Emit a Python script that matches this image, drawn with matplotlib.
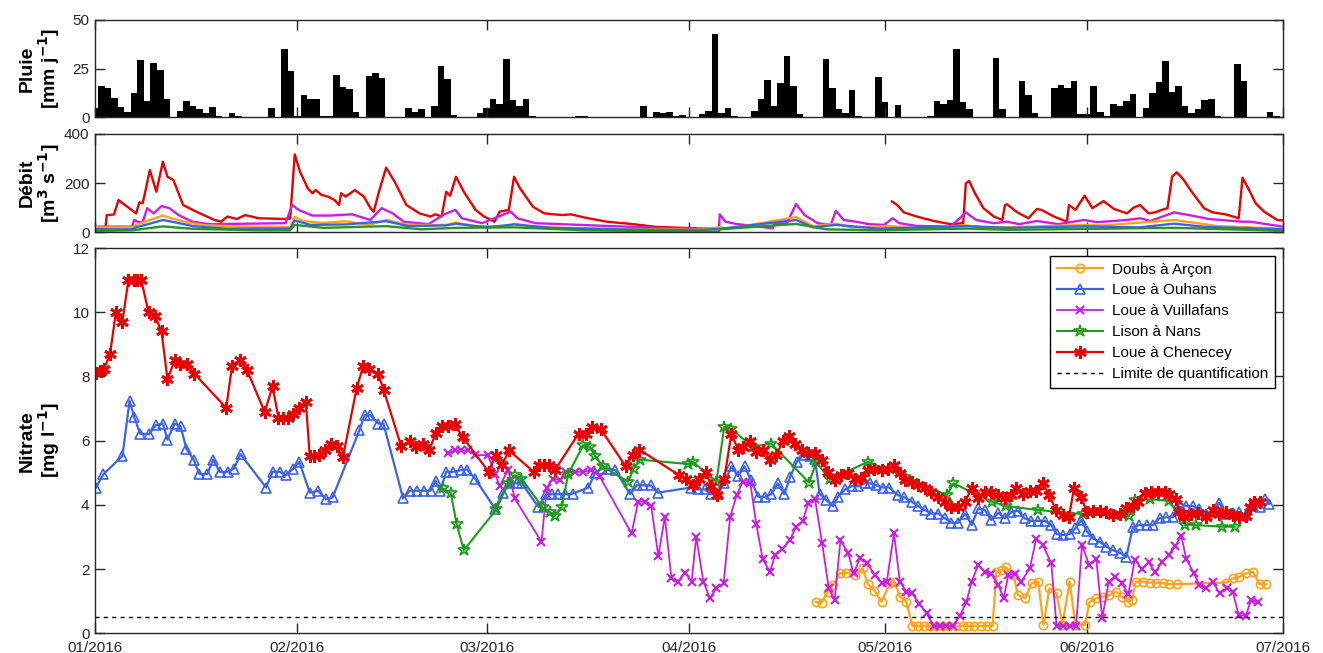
import numpy as np
import pandas as pd
import matplotlib
matplotlib.use("Agg")
import matplotlib.pyplot as plt
import matplotlib.dates as mdates

plt.rcParams['font.family'] = ['Liberation Sans', 'DejaVu Sans']

start = pd.Timestamp("2016-01-01")
end = pd.Timestamp("2016-07-01")

# daily rainfall, mm/day, one value per day from 01/01/2016
rain = [4.6, 16.3, 14.9, 10.1, 5.1, 2.6, 12.5, 29.3, 8.2, 28.1,
        24.1, 9.4, 0, 3.4, 8.2, 5.8, 4.5, 2.1, 5.1, 0.9,
        0, 2.1, 0.9, 0, 0, 0, 0, 4.6, 0, 34.9,
        23.8, 0.9, 11.3, 9.4, 9.4, 0.9, 0.9, 21.7, 15.8, 14.6,
        2.6, 0, 21.1, 22.9, 20.0, 0, 0, 0, 4.6, 2.6,
        4.1, 0, 5.8, 26.2, 19.5, 1.4, 0, 0, 0, 2.1,
        4.6, 9.4, 7.0, 29.8, 8.9, 5.8, 9.4, 0.9, 0, 0,
        0, 0, 0, 0, 0.9, 0.9, 0, 0, 0, 0,
        0, 0, 0, 0, 5.8, 0, 2.6, 2.1, 2.6, 0.9,
        1.4, 0.3, 0, 1.5, 3.4, 43.0, 2.1, 4.6, 0.9, 0,
        0, 3.4, 9.4, 19.3, 5.8, 17.6, 31.7, 16.3, 1.5, 0,
        0, 0, 29.8, 14.9, 4.1, 2.1, 13.9, 0.9, 0, 0,
        20.7, 7.7, 0, 6.5, 0, 0, 0, 0, 0.9, 8.4,
        7.0, 9.1, 34.9, 7.7, 4.1, 0, 0, 0, 30.5, 4.1,
        0, 0, 18.8, 11.5, 2.1, 0, 0, 15.1, 16.8, 15.1,
        18.8, 1.5, 1.5, 16.3, 2.7, 0.9, 7.0, 5.8, 8.2, 11.8,
        0, 4.6, 12.7, 18.2, 28.8, 13.2, 16.3, 5.8, 2.1, 4.1,
        9.1, 9.4, 0.9, 0, 0, 27.4, 18.8, 0, 0, 0,
        2.6, 0.9]

# discharge (day of year, m3/s)
q_chenecey = [(0, 16), (1.6, 16), (1.8, 70), (2.9, 72), (3.6, 131), (6.3, 77),
              (6.8, 122), (7.3, 118), (7.7, 165), (8.4, 253), (9.4, 165),
              (10.4, 287), (11.1, 226), (12.0, 213), (13.5, 111), (15.5, 84),
              (18.3, 50), (19.3, 43), (20.3, 64), (21.7, 54), (23.0, 70),
              (25.1, 57), (29.2, 54), (29.9, 56), (30.6, 317), (31.4, 247),
              (32.6, 179), (33.3, 159), (33.8, 172), (34.7, 152), (35.7, 145),
              (36.7, 131), (37.4, 111), (37.7, 159), (38.4, 145), (39.8, 172),
              (41.2, 145), (42.2, 98), (42.7, 84), (43.5, 165), (44.6, 263),
              (45.9, 206), (47.7, 111), (49.7, 77), (51.4, 64), (52.1, 73),
              (53.1, 64), (53.8, 165), (54.4, 149), (55.3, 226), (56.5, 165),
              (58.3, 91), (59.6, 64), (61.2, 43), (62.0, 84), (63.4, 91),
              (64.2, 226), (65.1, 179), (67.1, 104), (68.8, 77), (71.6, 70),
              (72.9, 73), (75.0, 60), (78.4, 43), (82.5, 33), (85.9, 22),
              (90.0, 18), (92.0, 17), (92.5, np.nan),
              (122.1, 125), (122.9, 111), (123.9, 81), (125.9, 64), (128.5, 46),
              (131.1, 33), (133.0, 37), (133.4, 199), (133.9, 209), (134.8, 159),
              (136.1, 98), (137.7, 64), (139.0, 50), (139.4, 111), (139.7, 114),
              (141.3, 81), (143.0, 57), (144.3, 95), (145.0, 91), (146.9, 64),
              (148.9, 43), (149.2, 111), (150.2, 91), (151.6, 149), (152.8, 98),
              (154.5, 127), (156.1, 95), (158.1, 77), (159.1, 100), (160.1, 111),
              (161.4, 77), (162.4, 81), (163.4, 91), (164.3, 98), (165.0, 226),
              (165.7, 244), (166.6, 220), (168.0, 165), (169.9, 98), (171.2, 81),
              (173.2, 73), (175.2, 57), (175.8, 222), (176.8, 172), (177.8, 118),
              (179.1, 84), (181.1, 50), (182.0, 48)]
q_vuillafans = [(0, 23), (5.7, 23), (6.0, 50), (6.7, 41), (7.3, 41), (8.0, 98),
                (9.0, 77), (10.2, 107), (11.4, 98), (12.8, 70), (14.9, 43),
                (17.6, 33), (29.2, 37), (30.2, 111), (31.2, 91), (33.3, 68),
                (36.0, 68), (39.4, 73), (42.2, 50), (43.9, 98), (45.6, 77),
                (47.3, 43), (51.1, 33), (53.5, 73), (55.2, 91), (56.2, 57),
                (59.3, 37), (63.7, 84), (64.7, 57), (67.5, 37), (74.3, 30),
                (88.0, 16), (95.6, 16), (95.7, 73), (96.6, 43), (98.2, 34),
                (103.8, 16), (104.1, 34), (106.0, 37), (107.4, 115), (108.7, 70),
                (110.7, 37), (112.7, 30), (113.5, 87), (114.7, 50), (116.6, 43),
                (118.6, 33), (120.9, 30), (122.2, 57), (123.2, 37), (125.9, 26),
                (131.1, 23), (133.4, 81), (135.0, 50), (137.7, 37), (139.7, 43),
                (141.6, 33), (144.3, 46), (147.6, 33), (151.5, 50), (153.5, 41),
                (158.1, 50), (160.1, 57), (161.7, 46), (165.3, 81), (168.0, 68),
                (170.6, 54), (175.8, 43), (177.0, 43), (182.0, 23)]
q_arcon = [(0, 20), (5.7, 20), (6.3, 30), (8.4, 50), (10.4, 68), (12.0, 55),
           (14.0, 40), (17.0, 28), (25.0, 22), (29.9, 22), (30.6, 62), (32.0, 45),
           (35.0, 38), (38.4, 45), (42.0, 30), (44.6, 50), (48.0, 30), (53.8, 30),
           (55.3, 40), (58.0, 25), (63.4, 25), (64.2, 35), (67.0, 22), (75.0, 16),
           (92.0, 10), (95.7, 20), (97.0, 14), (107.4, 62), (110.0, 25), (113.5, 35),
           (116.0, 20), (122.2, 25), (126.0, 15), (133.4, 28), (137.0, 18),
           (151.6, 30), (154.5, 28), (165.3, 50), (168.0, 40), (172.0, 25), (182.0, 14)]
q_ouhans = [(0, 12), (5.7, 12), (6.3, 20), (8.4, 35), (10.4, 50), (12.0, 42),
            (15.0, 25), (20.0, 15), (29.9, 15), (30.6, 48), (33.0, 30), (38.4, 32),
            (44.6, 45), (48.0, 25), (53.8, 28), (55.3, 35), (60.0, 20), (64.2, 32),
            (70.0, 18), (80.0, 12), (92.0, 8), (95.7, 14), (107.4, 50), (110.0, 20),
            (113.5, 30), (120.0, 15), (133.4, 25), (140.0, 18), (151.6, 24),
            (160.0, 20), (165.3, 35), (170.0, 22), (182.0, 12)]
q_nans = [(0, 6), (5.7, 8), (10.4, 24), (15.0, 14), (25.0, 8), (29.9, 8), (30.6, 30),
          (35.0, 18), (44.6, 25), (50.0, 12), (55.3, 18), (64.2, 20), (75.0, 8),
          (92.0, 3), (95.6, 3), (95.7, 12), (107.4, 34), (112.0, 12), (120.0, 8),
          (133.4, 15), (140.0, 10), (165.3, 18), (182.0, 6)]

# nitrate (day of year, mg/l)
no3_arcon = [(110.4, 0.98), (111.3, 0.95), (112.3, 1.30), (113.1, 1.50), (114.1, 1.87),
             (115.1, 1.89), (116.4, 1.81), (117.6, 2.02), (118.4, 1.53), (119.4, 1.33),
             (120.5, 0.98), (121.8, 1.58), (122.5, 1.61), (123.3, 1.14), (124.3, 0.98),
             (125.2, 0.23), (126.1, 0.23), (127.0, 0.23), (127.9, 0.23), (128.9, 0.23),
             (129.9, 0.23), (130.9, 0.23), (131.9, 0.23), (132.9, 0.23), (133.8, 0.23),
             (134.7, 0.23), (135.7, 0.23), (136.6, 0.23), (137.5, 0.23), (138.1, 1.92),
             (138.9, 1.97), (139.6, 2.05), (140.7, 1.81), (141.4, 1.19), (142.5, 1.09),
             (143.5, 1.56), (144.5, 1.61), (145.3, 0.26), (146.2, 1.40), (147.3, 1.25),
             (148.2, 0.26), (149.3, 1.61), (150.2, 0.26), (151.6, 0.26), (152.4, 0.98),
             (153.4, 1.09), (154.4, 1.14), (155.4, 1.19), (156.4, 1.30), (157.3, 1.14),
             (158.2, 0.98), (158.9, 1.04), (159.4, 1.61), (160.5, 1.61), (161.6, 1.58),
             (162.6, 1.58), (163.6, 1.56), (164.6, 1.53), (165.7, 1.53), (173.3, 1.58),
             (174.3, 1.71), (175.3, 1.76), (176.4, 1.87), (177.4, 1.92), (178.4, 1.53),
             (179.4, 1.53)]
no3_ouhans = [(0.15, 4.54), (1.3, 4.96), (4.2, 5.52), (5.3, 7.24), (6.0, 6.74), (6.9, 6.22),
              (8.3, 6.20), (9.3, 6.48), (10.4, 6.53), (11.1, 6.03), (12.2, 6.53), (13.1, 6.45),
              (14.0, 5.75), (15.1, 5.41), (16.0, 4.96), (17.2, 4.96), (18.1, 5.41), (19.1, 5.03),
              (20.3, 5.03), (21.3, 5.13), (22.3, 5.58), (26.2, 4.54), (27.2, 5.03), (28.3, 5.03),
              (29.2, 4.92), (30.4, 5.13), (31.3, 5.34), (32.9, 4.38), (34.2, 4.44), (35.4, 4.17),
              (36.4, 4.23), (40.5, 6.32), (41.3, 6.79), (42.2, 6.79), (43.4, 6.53), (44.2, 6.53),
              (47.2, 4.20), (48.2, 4.44), (49.3, 4.44), (50.4, 4.44), (51.4, 4.44), (52.2, 4.75),
              (52.9, 4.44), (53.8, 5.03), (54.9, 5.03), (56.0, 5.08), (57.0, 5.10), (58.2, 4.82),
              (61.3, 3.88), (62.5, 4.38), (63.6, 4.67), (64.6, 4.67), (65.4, 4.67), (67.9, 3.94),
              (69.1, 4.33), (70.0, 4.33), (71.0, 4.33), (72.0, 4.33), (73.2, 4.35), (75.6, 4.54),
              (76.6, 5.00), (77.6, 5.13), (78.6, 5.13), (79.7, 5.08), (82.0, 4.33), (83.0, 4.61),
              (84.0, 4.61), (85.1, 4.61), (86.2, 4.38), (91.3, 4.54), (92.3, 4.48), (93.4, 4.48),
              (94.4, 4.33), (95.4, 4.33), (96.4, 4.69), (97.5, 5.20), (98.5, 4.89), (99.5, 5.20),
              (100.5, 4.77), (101.6, 4.25), (102.6, 4.25), (103.6, 4.33), (104.6, 4.67),
              (105.6, 4.33), (106.5, 4.87), (107.5, 5.34), (108.5, 5.55), (109.5, 5.52),
              (110.3, 5.44), (111.0, 4.35), (112.0, 4.15), (113.1, 3.96), (113.8, 4.25),
              (114.9, 4.48), (115.9, 4.58), (116.9, 4.58), (117.9, 4.67), (118.7, 4.67),
              (119.7, 4.61), (120.7, 4.54), (121.7, 4.54), (123.0, 4.30), (124.0, 4.23),
              (125.1, 4.10), (126.1, 3.96), (127.1, 3.84), (128.1, 3.73), (129.2, 3.73),
              (130.2, 3.58), (131.2, 3.44), (132.2, 3.44), (133.3, 3.73), (134.3, 3.37),
              (135.3, 3.89), (136.3, 3.84), (137.3, 3.53), (138.4, 3.75), (139.4, 3.58),
              (140.4, 3.78), (141.4, 3.82), (142.4, 3.58), (143.4, 3.50), (144.4, 3.50),
              (145.5, 3.50), (146.5, 3.37), (147.3, 3.09), (148.3, 3.06), (149.3, 3.09),
              (150.2, 3.27), (151.1, 3.53), (151.9, 3.19), (152.9, 2.95), (153.9, 2.85),
              (154.9, 2.70), (155.9, 2.59), (157.0, 2.51), (158.0, 2.38), (159.0, 3.32),
              (160.0, 3.37), (161.1, 3.37), (162.1, 3.37), (163.1, 3.58), (164.1, 3.61),
              (165.1, 3.61), (166.1, 4.06), (167.2, 3.96), (168.2, 3.96), (169.1, 3.86),
              (170.2, 3.73), (171.2, 3.78), (172.2, 4.06), (173.3, 3.73), (174.3, 3.75),
              (175.3, 3.78), (176.3, 3.68), (177.4, 3.96), (178.4, 3.94), (179.3, 4.17),
              (179.9, 4.04)]
no3_vuillafans = [(54.1, 5.60), (55.1, 5.70), (56.1, 5.70), (57.2, 5.70), (58.2, 5.55),
                  (60.2, 5.55), (61.3, 4.96), (62.0, 4.58), (63.3, 5.10), (64.3, 4.20),
                  (68.4, 2.85), (69.2, 4.51), (70.1, 4.82), (71.2, 4.77), (72.2, 5.03),
                  (73.5, 5.03), (74.8, 5.03), (76.0, 5.08), (77.3, 4.89), (82.2, 3.11),
                  (83.2, 4.10), (84.2, 4.10), (85.2, 3.96), (86.3, 2.41), (87.3, 3.63),
                  (88.3, 1.71), (89.3, 1.61), (90.4, 1.89), (91.4, 1.61), (92.1, 3.01),
                  (93.2, 1.61), (94.2, 1.09), (95.2, 1.40), (96.3, 1.56), (97.3, 3.63),
                  (98.3, 4.30), (99.2, 4.72), (100.4, 4.67), (101.3, 3.40), (102.3, 2.30),
                  (103.4, 1.92), (104.2, 2.44), (105.3, 2.61), (106.4, 2.90), (107.4, 3.30),
                  (108.4, 3.50), (109.3, 4.07), (110.3, 4.18), (111.4, 2.80), (112.4, 1.40),
                  (113.3, 1.03), (114.2, 2.90), (115.4, 2.49), (116.2, 1.87), (117.2, 2.33),
                  (118.3, 2.18), (119.5, 1.81), (120.5, 1.58), (121.3, 1.61), (122.4, 3.11),
                  (123.3, 1.61), (124.3, 1.30), (125.2, 1.24), (126.3, 0.91), (127.4, 0.62),
                  (128.5, 0.23), (129.5, 0.23), (130.4, 0.23), (131.4, 0.23), (132.5, 0.54),
                  (133.5, 0.98), (134.3, 1.61), (135.3, 2.13), (136.3, 1.92), (137.3, 1.85),
                  (138.4, 1.50), (139.2, 1.09), (139.9, 1.81), (140.9, 1.85), (141.9, 1.61),
                  (143.2, 2.02), (144.2, 2.95), (145.2, 2.75), (146.5, 2.18), (147.3, 0.23),
                  (148.3, 0.23), (149.3, 0.23), (150.3, 0.23), (151.2, 2.75), (152.3, 2.13),
                  (153.4, 2.30), (154.3, 0.47), (155.3, 1.61), (156.3, 1.76), (157.3, 1.56),
                  (158.3, 1.22), (159.3, 2.29), (160.4, 2.00), (161.4, 2.21), (162.4, 1.90),
                  (163.5, 2.23), (164.5, 2.44), (165.5, 2.72), (166.4, 3.03), (167.2, 2.30),
                  (168.3, 1.89), (169.2, 1.50), (170.2, 1.40), (171.2, 1.61), (172.3, 1.24),
                  (173.4, 1.40), (174.3, 1.30), (175.2, 0.57), (176.3, 0.54), (177.1, 1.04),
                  (178.1, 0.98)]
no3_nans = [(53.3, 4.51), (54.5, 4.38), (55.4, 3.40), (56.5, 2.59), (61.5, 3.86), (63.3, 4.69),
            (64.3, 4.92), (65.3, 4.82), (68.6, 3.92), (69.7, 3.78), (70.4, 3.65), (71.5, 3.94),
            (72.5, 4.96), (74.8, 5.86), (75.8, 5.81), (76.6, 5.52), (77.8, 5.20), (81.7, 4.72),
            (82.5, 5.13), (83.5, 5.41), (90.9, 5.27), (91.6, 5.34), (95.2, 4.72), (96.4, 6.43),
            (97.5, 6.35), (100.8, 5.81), (103.6, 5.91), (109.4, 4.69), (110.5, 5.33),
            (112.6, 4.79), (118.4, 5.34), (124.1, 4.87), (130.5, 4.30), (131.5, 4.67),
            (137.4, 4.10), (139.6, 3.96), (144.5, 3.84), (151.4, 3.71), (158.4, 3.65),
            (159.3, 4.15), (161.6, 4.17), (164.5, 4.13), (167.0, 3.37), (168.6, 3.37),
            (172.7, 3.32), (174.6, 3.32)]
no3_chenecey = [(0.15, 8.11), (0.9, 8.17), (1.4, 8.24), (2.3, 8.69), (3.2, 10.0), (4.2, 9.69),
                (5.1, 10.99), (5.9, 11.01), (6.5, 10.99), (7.1, 10.99), (8.2, 10.0), (9.2, 9.87),
                (10.2, 9.40), (11.1, 7.91), (12.2, 8.50), (13.0, 8.40), (14.1, 8.38), (15.2, 8.09),
                (20.1, 7.02), (21.0, 8.33), (22.2, 8.52), (23.3, 8.19), (26.0, 6.89), (27.2, 7.69),
                (28.1, 6.72), (28.8, 6.69), (29.6, 6.72), (30.4, 6.82), (31.3, 7.03), (32.3, 7.21),
                (32.9, 5.52), (33.6, 5.52), (34.3, 5.55), (35.2, 5.72), (36.1, 5.91), (37.0, 5.83),
                (38.0, 5.50), (40.1, 7.65), (41.1, 8.33), (42.0, 8.22), (43.4, 8.07), (44.2, 7.59),
                (46.9, 5.83), (48.2, 5.99), (49.2, 5.81), (50.3, 5.91), (51.2, 5.70), (52.2, 6.24),
                (53.1, 6.45), (54.1, 6.45), (55.1, 6.51), (56.3, 6.12), (60.3, 5.03), (61.4, 5.55),
                (62.4, 5.24), (63.4, 5.70), (67.2, 5.03), (68.0, 5.24), (68.8, 5.24), (69.5, 5.24),
                (70.5, 5.10), (74.1, 6.22), (75.2, 6.22), (76.2, 6.43), (77.5, 6.35), (81.3, 5.20),
                (82.4, 5.55), (83.4, 5.72), (89.5, 4.92), (90.6, 4.82), (91.6, 4.61), (92.6, 4.79),
                (93.6, 5.03), (94.4, 4.58), (95.3, 4.30), (96.4, 4.82), (97.5, 6.22), (98.5, 5.72),
                (99.3, 5.81), (100.3, 5.99), (101.3, 5.65), (102.4, 5.70), (103.4, 5.41),
                (104.4, 5.55), (105.4, 6.00), (106.3, 6.16), (107.3, 5.91), (108.3, 5.72),
                (109.2, 5.60), (110.3, 5.60), (111.3, 5.41), (112.3, 5.03), (113.3, 4.77),
                (114.3, 4.92), (115.4, 5.00), (116.4, 4.82), (117.4, 4.85), (118.4, 5.10),
                (119.4, 5.13), (120.5, 5.08), (121.5, 5.13), (122.4, 5.24), (123.3, 4.98),
                (124.1, 4.77), (125.1, 4.72), (126.1, 4.61), (127.1, 4.51), (128.1, 4.41),
                (129.2, 4.25), (130.2, 4.10), (131.2, 3.94), (132.2, 3.92), (133.3, 4.10),
                (134.3, 4.51), (135.3, 4.20), (136.3, 4.41), (137.3, 4.41), (138.4, 4.30),
                (139.4, 4.20), (140.4, 4.30), (141.1, 4.51), (142.2, 4.35), (143.2, 4.44),
                (144.2, 4.44), (145.2, 4.67), (146.2, 4.30), (147.2, 3.84), (148.3, 3.68),
                (149.2, 3.63), (150.0, 4.54), (151.1, 4.25), (151.9, 3.78), (152.9, 3.82),
                (153.9, 3.82), (154.9, 3.78), (155.9, 3.68), (157.0, 3.73), (158.0, 3.89),
                (159.0, 3.96), (159.8, 4.10), (160.8, 4.38), (161.8, 4.41), (162.8, 4.41),
                (163.9, 4.41), (164.6, 4.35), (165.6, 4.17), (166.1, 3.78), (166.9, 3.63),
                (167.9, 3.73), (168.9, 3.75), (170.2, 3.61), (171.2, 3.84), (172.2, 3.73),
                (173.3, 3.78), (174.3, 3.68), (175.3, 3.63), (176.3, 3.65), (176.9, 3.94),
                (177.6, 4.10), (178.4, 4.10)]
limite_quantif = 0.5

c_orange = '#FFA21F'
c_blue = '#3D63E3'
c_magenta = '#C81EE0'
c_green = '#1F9A1F'
c_red = '#E80000'


def to_dates(pairs):
    d, v = zip(*pairs)
    return start + pd.to_timedelta(np.array(d), unit='D'), np.array(v, dtype=float)


fig = plt.figure(figsize=(13.23, 6.53), dpi=100)
ax1 = fig.add_axes([0.0718, 0.8204, 0.898, 0.149])
ax2 = fig.add_axes([0.0718, 0.6443, 0.898, 0.1505])
ax3 = fig.add_axes([0.0718, 0.0302, 0.898, 0.590])

# rain
rain_dates = start + pd.to_timedelta(np.arange(len(rain)), unit='D')
ax1.bar(rain_dates, rain, width=1.0, color='black', edgecolor='none')
ax1.set_ylim(0, 50)
ax1.set_yticks([0, 25, 50])

# discharge
for pairs, col in [(q_chenecey, c_red), (q_vuillafans, c_magenta), (q_arcon, c_orange),
                   (q_ouhans, c_blue), (q_nans, c_green)]:
    x, y = to_dates(pairs)
    ax2.plot(x, y, color=col, lw=1.7)
ax2.set_ylim(0, 400)
ax2.set_yticks([0, 200, 400])

# nitrate
x, y = to_dates(no3_arcon)
ax3.plot(x, y, color=c_orange, lw=1.6, marker='o', ms=6, mfc='none', mew=1.2,
         label='Doubs à Arçon')
x, y = to_dates(no3_ouhans)
ax3.plot(x, y, color=c_blue, lw=1.6, marker='^', ms=7, mfc='none', mew=1.2,
         label='Loue à Ouhans')
x, y = to_dates(no3_vuillafans)
ax3.plot(x, y, color=c_magenta, lw=1.3, marker='x', ms=6, mew=1.5,
         label='Loue à Vuillafans')
x, y = to_dates(no3_nans)
ax3.plot(x, y, color=c_green, lw=1.5, marker='*', ms=9, mfc='none', mew=1.2,
         label='Lison à Nans')
x, y = to_dates(no3_chenecey)
ax3.plot(x, y, color=c_red, lw=1.6, marker=(6, 2, 0), ms=9, mew=2.0,
         label='Loue à Chenecey')
ax3.axhline(limite_quantif, color='black', lw=1, ls=(0, (3, 3)),
            label='Limite de quantification')
ax3.set_ylim(0, 12)
ax3.set_yticks(range(0, 13, 2))

leg = ax3.legend(loc='upper right', fontsize=11, fancybox=False, framealpha=1,
                 edgecolor='black', borderaxespad=0.5, handlelength=3.0,
                 borderpad=0.45, labelspacing=0.45, handletextpad=0.6)
leg.get_frame().set_linewidth(1.0)

for ax in (ax1, ax2, ax3):
    ax.set_xlim(start, end)
    ax.xaxis.set_major_locator(mdates.MonthLocator())
    ax.xaxis.set_major_formatter(mdates.DateFormatter('%m/%Y'))
    ax.tick_params(direction='in', top=True, right=True, length=7, width=1,
                   labelsize=11, colors='#262626', pad=4)
    ax.tick_params(axis='x', pad=5.5)
    for s in ax.spines.values():
        s.set_linewidth(1.0)
        s.set_color('#262626')
for ax in (ax1, ax2):
    ax.tick_params(labelbottom=False)

ax1.set_ylabel('Pluie\n[mm j$^{\\mathbf{-1}}$]', fontsize=14, fontweight='bold',
               linespacing=1.0)
ax2.set_ylabel('Débit\n[m$^{\\mathbf{3}}$ s$^{\\mathbf{-1}}$]', fontsize=14,
               fontweight='bold', linespacing=1.0)
ax3.set_ylabel('Nitrate\n[mg l$^{\\mathbf{-1}}$]', fontsize=14, fontweight='bold',
               linespacing=1.0)
for ax in (ax1, ax2, ax3):
    ax.yaxis.set_label_coords(-0.028, 0.5)

fig.savefig('out.png', dpi=100)
